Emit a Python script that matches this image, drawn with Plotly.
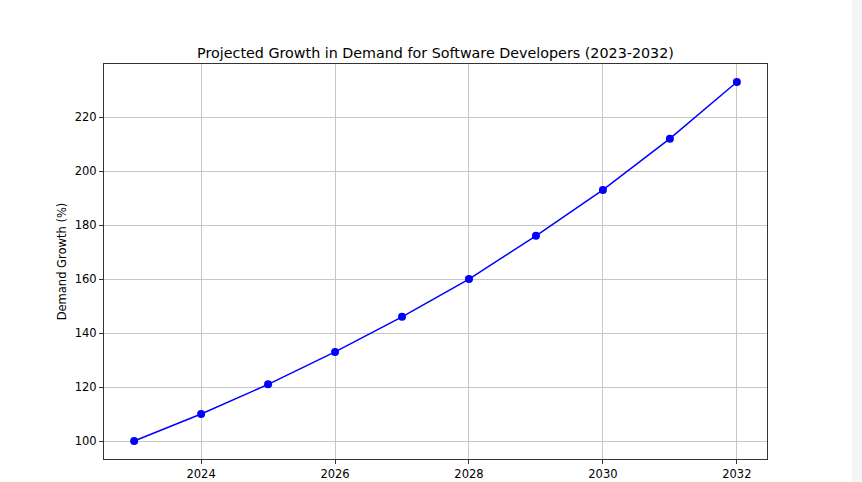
import plotly.graph_objects as go

years = [2023, 2024, 2025, 2026, 2027, 2028, 2029, 2030, 2031, 2032]
growth = [100, 110, 121, 133, 146, 160, 176, 193, 212, 233]
x_ticks = [2024, 2026, 2028, 2030, 2032]
y_ticks = [100, 120, 140, 160, 180, 200, 220]

fig = go.Figure()
fig.add_trace(go.Scatter(
    x=years, y=growth, mode="lines+markers",
    line=dict(color="#0000ff", width=1.5),
    marker=dict(color="#0000ff", size=8),
    showlegend=False,
))

axis_common = dict(
    showline=True, linecolor="#333333", linewidth=1, mirror=True,
    showgrid=True, gridcolor="#c6c6c6", gridwidth=1,
    ticks="outside", ticklen=4, tickcolor="#333333",
    zeroline=False, tickfont=dict(size=11.5, color="#000000"),
    automargin=False,
)

fig.update_layout(
    width=862, height=482,
    paper_bgcolor="white", plot_bgcolor="white",
    margin=dict(l=104, r=95, t=64, b=23),
    font=dict(family="DejaVu Sans", color="#000000"),
    title=dict(text="Projected Growth in Demand for Software Developers (2023-2032)",
               x=0.5, xref="paper", xanchor="center", y=1, yref="paper",
               yanchor="bottom", pad=dict(b=6), font=dict(size=14.3),
               automargin=False),
    xaxis=dict(range=[2022.55, 2032.45], tickvals=x_ticks, **axis_common),
    yaxis=dict(range=[93.35, 239.65], tickvals=y_ticks,
               title=dict(text="Demand Growth (%)", font=dict(size=11.5), standoff=5),
               **axis_common),
    shapes=[dict(type="rect", xref="paper", yref="paper",
                 x0=(852 - 104) / 663, x1=(862 - 104) / 663, y0=-23 / 395, y1=1 + 64 / 395,
                 fillcolor="#f6f6f6", line=dict(width=0), layer="below")],
)

fig.write_html("out.html", config={"displayModeBar": False},
               post_script="document.body.style.margin='0';document.body.style.overflow='hidden';")
